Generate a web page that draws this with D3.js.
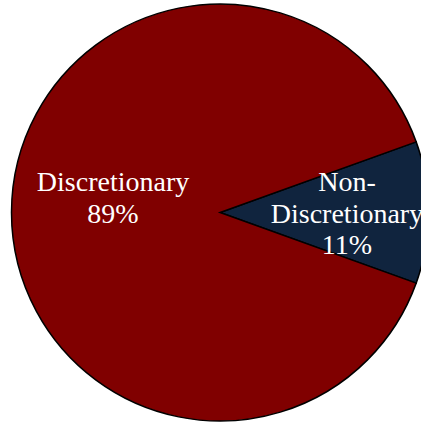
<!DOCTYPE html>
<html><head><meta charset="utf-8">
<script src="https://cdn.jsdelivr.net/npm/d3@7"></script>
<style>html,body{margin:0;padding:0;background:#fff;overflow:hidden}</style>
</head><body>
<svg id="chart" width="421" height="422"></svg>
<script>
const categories = ["Non-Discretionary", "Discretionary"];
const values = [11, 89];
const labelLines = [["Non-", "Discretionary", "11%"], ["Discretionary", "89%"]];
const colors = ["#10243e", "#800000"];

const svg = d3.select("#chart");
const cx = 220, cy = 212.5, R = 208.5;
const g = svg.append("g").attr("transform", `translate(${cx},${cy})`);

const total = d3.sum(values);
const startA = Math.PI / 2 - Math.PI * values[0] / total;
const pie = d3.pie().sort(null).startAngle(startA).endAngle(startA + 2 * Math.PI);
const arcs = pie(values);
const arc = d3.arc().innerRadius(0).outerRadius(R);
const color = d3.scaleOrdinal().domain(categories).range(colors);

g.selectAll("path.slice").data(arcs).enter().append("path")
  .attr("class", "slice")
  .attr("d", arc)
  .attr("fill", (d, i) => color(categories[i]))
  .attr("stroke", "#000")
  .attr("stroke-width", 1.5)
  .attr("stroke-linejoin", "miter");

const labelR = [127, 107];
const lineH = 31.5;
arcs.forEach((d, i) => {
  const a = (d.startAngle + d.endAngle) / 2;
  const x = Math.sin(a) * labelR[i];
  const y = -Math.cos(a) * labelR[i];
  const lines = labelLines[i];
  const t = g.append("text")
    .attr("text-anchor", "middle")
    .attr("font-family", "'Liberation Serif', 'DejaVu Serif', serif")
    .attr("font-size", 28)
    .attr("fill", "#fff");
  const y0 = y - 21.5;
  lines.forEach((ln, j) => {
    t.append("tspan").attr("x", x).attr("y", y0 + j * lineH).text(ln);
  });
});
</script>
</body></html>
